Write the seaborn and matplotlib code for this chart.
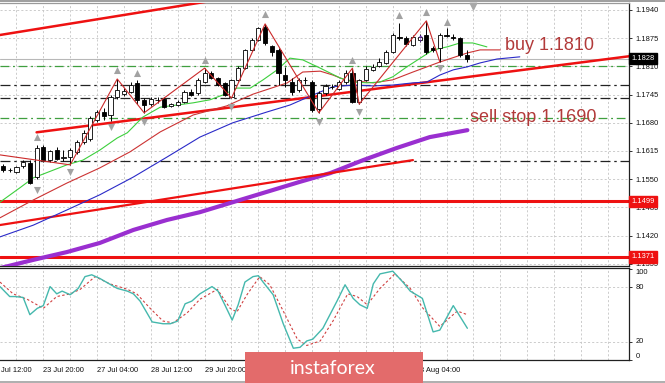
import numpy as np
import pandas as pd
import matplotlib
matplotlib.use("Agg")
import matplotlib.pyplot as plt
import seaborn as sns
from matplotlib.transforms import blended_transform_factory
from matplotlib.patches import Rectangle

# ---------------- data (H4 candles) ----------------
opens = [1.1580, 1.1571, 1.1567, 1.1580, 1.1587, 1.1555, 1.1624, 1.1594, 1.1617, 1.1599,
         1.1601, 1.1613, 1.1636, 1.1643, 1.1687, 1.1705, 1.1698, 1.1740, 1.1746, 1.1751,
         1.1772, 1.1733, 1.1723, 1.1733, 1.1735, 1.1719, 1.1721, 1.1728, 1.1751, 1.1749,
         1.1774, 1.1795, 1.1783, 1.1772, 1.1740, 1.1779, 1.1806, 1.1848, 1.1871, 1.1901,
         1.1857, 1.1848, 1.1790, 1.1774, 1.1756, 1.1779, 1.1774, 1.1712, 1.1749, 1.1763,
         1.1758, 1.1774, 1.1795, 1.1728, 1.1779, 1.1802, 1.1811, 1.1818, 1.1843, 1.1878,
         1.1876, 1.1859, 1.1871, 1.1882, 1.1852, 1.1852, 1.1882, 1.1878, 1.1876, 1.1836]
highs = [1.1585, 1.1576, 1.1580, 1.1594, 1.1594, 1.1629, 1.1629, 1.1617, 1.1624, 1.1617,
         1.1622, 1.1640, 1.1663, 1.1696, 1.1710, 1.1714, 1.1744, 1.1781, 1.1760, 1.1774,
         1.1779, 1.1737, 1.1740, 1.1740, 1.1740, 1.1726, 1.1733, 1.1756, 1.1758, 1.1783,
         1.1806, 1.1799, 1.1786, 1.1774, 1.1781, 1.1811, 1.1850, 1.1875, 1.1901, 1.1908,
         1.1859, 1.1852, 1.1809, 1.1783, 1.1783, 1.1786, 1.1779, 1.1753, 1.1769, 1.1769,
         1.1779, 1.1802, 1.1806, 1.1781, 1.1811, 1.1816, 1.1829, 1.1848, 1.1887, 1.1910,
         1.1880, 1.1882, 1.1885, 1.1915, 1.1857, 1.1887, 1.1899, 1.1885, 1.1878, 1.1848]
lows = [1.1567, 1.1567, 1.1564, 1.1576, 1.1539, 1.1551, 1.1590, 1.1590, 1.1594, 1.1592,
        1.1583, 1.1608, 1.1631, 1.1638, 1.1682, 1.1687, 1.1684, 1.1735, 1.1742, 1.1749,
        1.1723, 1.1703, 1.1719, 1.1726, 1.1714, 1.1716, 1.1719, 1.1726, 1.1742, 1.1744,
        1.1772, 1.1781, 1.1765, 1.1742, 1.1737, 1.1776, 1.1804, 1.1845, 1.1869, 1.1859,
        1.1834, 1.1767, 1.1763, 1.1744, 1.1751, 1.1769, 1.1705, 1.1703, 1.1744, 1.1758,
        1.1756, 1.1769, 1.1726, 1.1723, 1.1776, 1.1799, 1.1809, 1.1816, 1.1841, 1.1871,
        1.1857, 1.1857, 1.1866, 1.1839, 1.1843, 1.1820, 1.1878, 1.1871, 1.1832, 1.1820]
closes = [1.1571, 1.1572, 1.1578, 1.1590, 1.1541, 1.1622, 1.1594, 1.1615, 1.1597, 1.1600,
          1.1617, 1.1636, 1.1657, 1.1691, 1.1705, 1.1696, 1.1740, 1.1756, 1.1753, 1.1767,
          1.1733, 1.1721, 1.1735, 1.1732, 1.1716, 1.1723, 1.1728, 1.1751, 1.1744, 1.1779,
          1.1795, 1.1783, 1.1767, 1.1744, 1.1779, 1.1806, 1.1848, 1.1871, 1.1899, 1.1864,
          1.1843, 1.1795, 1.1779, 1.1751, 1.1779, 1.1778, 1.1710, 1.1749, 1.1765, 1.1762,
          1.1774, 1.1795, 1.1728, 1.1779, 1.1804, 1.1809, 1.1820, 1.1843, 1.1882, 1.1876,
          1.1862, 1.1878, 1.1878, 1.1843, 1.1848, 1.1882, 1.1881, 1.1876, 1.1836, 1.1828]

# Alligator-style moving averages (bar position, price)
lips_x = [-0.45, 2.5, 4.5, 9.5, 11.9, 14.4, 17.0, 18.5, 20.8, 23.4, 25.9, 28.3, 30.8, 32.7,
          34.8, 36.8, 38.7, 40.8, 42.7, 44.6, 47.2, 50.2, 52.1, 54.2, 56.1, 58.0, 60.1,
          62.1, 64.0, 66.1, 68.0, 69.9, 72.0]
lips_y = [1.1497, 1.1530, 1.1553, 1.1583, 1.1594, 1.1617, 1.1645, 1.1657, 1.1693, 1.1716,
          1.1721, 1.1726, 1.1733, 1.1744, 1.1760, 1.1760, 1.1779, 1.1802, 1.1829, 1.1825,
          1.1806, 1.1783, 1.1774, 1.1772, 1.1774, 1.1786, 1.1809, 1.1829, 1.1848, 1.1855,
          1.1864, 1.1864, 1.1855]
teeth_x = [-0.45, 4.5, 9.5, 14.4, 18.9, 23.4, 28.3, 33.3, 37.2, 42.3, 44.6, 47.2, 49.1,
           50.9, 55.1, 58.0, 61.0, 65.0, 69.1, 71.0, 74.0]
teeth_y = [1.1461, 1.1502, 1.1541, 1.1576, 1.1613, 1.1659, 1.1698, 1.1719, 1.1746, 1.1772,
           1.1797, 1.1799, 1.1790, 1.1779, 1.1772, 1.1779, 1.1797, 1.1820, 1.1841, 1.1848,
           1.1848]
jaw_x = [-0.45, 4.5, 9.5, 14.4, 19.4, 24.4, 29.3, 34.2, 39.3, 42.7, 46.1, 49.1, 52.1, 55.1,
         58.0, 61.0, 63.1, 65.0, 67.0, 69.1, 71.0, 73.5, 76.9]
jaw_y = [1.1417, 1.1444, 1.1479, 1.1514, 1.1555, 1.1601, 1.1647, 1.1680, 1.1705, 1.1721,
         1.1744, 1.1763, 1.1767, 1.1765, 1.1767, 1.1772, 1.1774, 1.1790, 1.1802, 1.1809,
         1.1818, 1.1827, 1.1832]
ma200_x = [-0.45, 4.5, 9.5, 14.4, 19.4, 24.4, 29.3, 34.2, 39.3, 44.2, 48.7, 53.6, 58.6,
           63.5, 69.1]
ma200_y = [1.1345, 1.1364, 1.1382, 1.1403, 1.1433, 1.1456, 1.1474, 1.1497, 1.1521, 1.1544,
           1.1564, 1.1594, 1.1622, 1.1647, 1.1663]

zigzag_x = [-0.45, 10, 17, 21, 30, 34, 39, 47, 52, 53, 63, 65]
zigzag_y = [1.1606, 1.1583, 1.1781, 1.1703, 1.1806, 1.1737, 1.1908, 1.1703, 1.1806, 1.1723,
            1.1915, 1.1820]

fr_up_x = [5, 17, 20, 30, 39, 52, 59, 63, 66]
fr_up_y = [1.1647, 1.1802, 1.1795, 1.1825, 1.1931, 1.1825, 1.1928, 1.1935, 1.1912]
fr_dn_x = [5, 10, 16, 21, 34, 47, 53, 65]
fr_dn_y = [1.1525, 1.1567, 1.1670, 1.1682, 1.1716, 1.1682, 1.1705, 1.1806]

# drawn trend lines (two anchor points each)
trend1_x, trend1_y = [-1, 33], [1.1881, 1.1966]
trend2_x, trend2_y = [5, 94], [1.1658, 1.1835]
trend3_x, trend3_y = [-1, 61], [1.1443, 1.1594]

green_levels = [1.1810, 1.1690]
black_levels = [1.1767, 1.1737, 1.1592]
red_levels = [1.1499, 1.1371]
last_price = 1.1828

price_ticks = [1.1355, 1.1420, 1.1485, 1.1550, 1.1615, 1.1680, 1.1745, 1.1810, 1.1875, 1.1940]

# stochastic oscillator
stk_x = [-0.45, 1.0, 1.8, 3.0, 4.0, 5.1, 6.0, 7.0, 8.0, 8.8, 10.0, 11.2, 12.2, 13.2, 14.4,
         17.0, 18.5, 19.4, 20.4, 22.2, 23.8, 24.9, 26.0, 27.1, 28.1, 29.3, 31.1, 32.0, 33.0,
         34.1, 35.0, 36.0, 37.2, 38.0, 38.7, 40.2, 41.7, 43.2, 44.2, 45.2, 46.1, 47.6, 49.7,
         50.9, 52.1, 53.1, 54.2, 55.1, 56.1, 58.0, 59.5, 60.6, 62.4, 64.0, 65.0, 67.0, 69.1]
stk_y = [81, 70, 70, 69, 50, 57, 60, 81, 73, 76, 72, 79, 92, 94, 90,
         79, 76, 73, 65, 42, 40, 40, 43, 62, 65, 73, 81, 76, 61,
         44, 61, 86, 92, 93, 86, 72, 40, 13, 14, 21, 23, 35, 65,
         83, 68, 61, 57, 84, 95, 98, 86, 76, 68, 31, 33, 60, 35]
sig_x = [-0.45, 1.5, 3.6, 6.0, 8.0, 10.0, 11.5, 13.7, 15.9, 18.5, 19.9, 21.9, 23.8, 25.3,
         27.4, 29.3, 31.9, 33.8, 34.8, 36.3, 38.2, 39.7, 41.7, 43.8, 45.2, 47.2, 49.1, 51.3,
         52.7, 54.2, 56.1, 58.3, 60.6, 62.5, 65.0, 67.6, 69.1]
sig_y = [86, 73, 67, 57, 70, 73, 78, 92, 84, 78, 73, 57, 43, 41,
         52, 67, 78, 57, 53, 72, 92, 83, 54, 23, 16, 21, 43, 73,
         70, 61, 79, 95, 79, 57, 37, 54, 50]

# time labels (the first one is shown cut at the left edge in the reference)
label_pos = [-0.25, 6, 14, 22, 30, 62]
label_txt = ["Jul 12:00", "23 Jul 20:00", "27 Jul 04:00", "28 Jul 12:00",
             "29 Jul 20:00", "3 Aug 04:00"]

# ---------------- figure ----------------
sns.set_theme(style="white")
plt.rcParams["font.family"] = ["Liberation Sans", "DejaVu Sans"]

W, H = 665, 383
fig = plt.figure(figsize=(W / 100, H / 100), dpi=100)
fig.patch.set_facecolor("white")


def px_axes(l, t, r, b):
    return fig.add_axes([l / W, 1 - b / H, (r - l) / W, (b - t) / H])


ax = px_axes(0, 3, 629, 266)
ax2 = px_axes(0, 268, 629, 360)

XMIN, XMAX = -0.446, 93.15
TICKFS = 5.4
GRID = dict(color="#c4c4c4", lw=0.6, ls=(0, (2.5, 2.5)))

for a in (ax, ax2):
    a.set_facecolor("white")
    a.set_xlim(XMIN, XMAX)
    a.spines["left"].set_visible(False)
    for s in ("right", "bottom", "top"):
        a.spines[s].set_color("#202020")
        a.spines[s].set_linewidth(0.9)
    a.set_xticks(np.arange(2, 93, 4))
    a.tick_params(axis="x", which="major", length=0, labelbottom=False)
    a.xaxis.grid(True, **GRID)
    a.yaxis.tick_right()
    a.tick_params(axis="y", which="major", length=2.5, width=0.6, pad=2,
                  labelsize=TICKFS, colors="#111111", right=True, left=False)
    a.set_xlabel("")
    a.set_ylabel("")
ax.spines["top"].set_color("#9a9a9a")

# main panel
ax.set_ylim(1.13499, 1.19561)
ax.set_yticks(price_ticks)
ax.set_yticklabels([f"{v:.4f}" for v in price_ticks])
ax.yaxis.grid(True, **GRID)

for lv in green_levels:
    ax.axhline(lv, color="#3f9f3f", lw=0.9, ls=(0, (7, 3, 1.5, 3)), zorder=2)
for lv in black_levels:
    ax.axhline(lv, color="#222222", lw=0.9, ls=(0, (8, 3, 2, 3)), zorder=2)
ax.axhline(last_price, color="#b8b8b8", lw=0.8, zorder=2)
for lv in red_levels:
    ax.axhline(lv, color="#ee1111", lw=2.2, zorder=2)

line_kw = dict(estimator=None, sort=False, legend=False)
sns.lineplot(x=ma200_x, y=ma200_y, ax=ax, color="#9a2fd0", lw=3.0, zorder=3, **line_kw)
sns.lineplot(x=trend1_x, y=trend1_y, ax=ax, color="#ee1111", lw=1.8, zorder=3, **line_kw)
sns.lineplot(x=trend2_x, y=trend2_y, ax=ax, color="#ee1111", lw=1.8, zorder=3, **line_kw)
sns.lineplot(x=trend3_x, y=trend3_y, ax=ax, color="#ee1111", lw=1.6, zorder=3, **line_kw)
sns.lineplot(x=jaw_x, y=jaw_y, ax=ax, color="#2a2ac8", lw=0.8, zorder=3, **line_kw)
sns.lineplot(x=teeth_x, y=teeth_y, ax=ax, color="#cc3333", lw=0.8, zorder=3, **line_kw)
sns.lineplot(x=lips_x, y=lips_y, ax=ax, color="#3ccf3c", lw=0.8, zorder=3, **line_kw)

# candles
df = pd.DataFrame({"o": opens, "h": highs, "l": lows, "c": closes})
df["i"] = np.arange(len(df))
up = df["c"] >= df["o"]
ax.vlines(df["i"], df["l"], df["h"], color="black", lw=0.7, zorder=4)
body_h = (df["c"] - df["o"]).abs().clip(lower=0.00003)
ax.bar(df["i"], body_h, bottom=df[["o", "c"]].min(axis=1), width=0.62,
       color=np.where(up, "white", "black"), edgecolor="black", linewidth=0.6, zorder=5)

sns.lineplot(x=zigzag_x, y=zigzag_y, ax=ax, color="#cc2a2a", lw=0.8, zorder=6, **line_kw)
ax.scatter(fr_up_x, fr_up_y, marker="^", s=26, color="#a2a2a2", zorder=6, linewidths=0)
ax.scatter(fr_dn_x, fr_dn_y, marker="v", s=26, color="#a2a2a2", zorder=6, linewidths=0)
ax.text(62, 1.1873, "\u2191", color="#7a3cc8", fontsize=6.5, ha="center", va="center",
        family="DejaVu Sans", zorder=7)
ax.scatter([69.9], [1.1950], marker="v", s=22, color="#a8a8a8", zorder=7, clip_on=False)

ax.text(74.7, 1.1859, "buy 1.1810", color="#b23a3a", fontsize=13, ha="left", va="center", zorder=8)
ax.text(69.5, 1.1692, "sell stop 1.1690", color="#b23a3a", fontsize=13, ha="left", va="center", zorder=8)

# right-side price boxes
bt = blended_transform_factory(ax.transAxes, ax.transData)
ax.text(1.004, last_price, f"{last_price:.4f}", transform=bt, color="white", fontsize=TICKFS,
        ha="left", va="center", clip_on=False, zorder=9,
        bbox=dict(boxstyle="square,pad=0.3", fc="black", ec="black"))
for lv in red_levels:
    ax.text(1.004, lv, f"{lv:.4f}", transform=bt, color="white", fontsize=TICKFS,
            ha="left", va="center", clip_on=False, zorder=9,
            bbox=dict(boxstyle="square,pad=0.3", fc="#ee1111", ec="#ee1111"))

# stochastic panel
ax2.set_ylim(0, 101.5)
ax2.set_yticks([0, 20, 80, 100])
ax2.set_yticklabels(["0", "20", "80", "100"])
for t, va in zip(ax2.get_yticklabels(), ["bottom", "center", "center", "top"]):
    t.set_va(va)
for lv in (20, 80):
    ax2.axhline(lv, **GRID)
sns.lineplot(x=sig_x, y=sig_y, ax=ax2, color="#d04040", lw=0.8, zorder=3, **line_kw)
ax2.lines[-1].set_linestyle((0, (2.2, 2)))
sns.lineplot(x=stk_x, y=stk_y, ax=ax2, color="#45b8ad", lw=1.0, zorder=4, **line_kw)

ax2.set_xticks(label_pos[1:], minor=True)
ax2.tick_params(axis="x", which="minor", length=3, width=0.6, color="#333333", bottom=True)
bx = blended_transform_factory(ax2.transData, ax2.transAxes)
for p, t in zip(label_pos, label_txt):
    ax2.text(p, -0.115, t, transform=bx, fontsize=TICKFS, color="#111111", ha="left",
             va="center", clip_on=False)

# window frame strips and watermark
fig.patches.append(Rectangle((0, 1 - 2 / H), 1, 2 / H, transform=fig.transFigure,
                             fc="#a0a0a0", ec="none", zorder=5))
fig.patches.append(Rectangle((0, 0), 1, 2 / H, transform=fig.transFigure,
                             fc="#b0b0b0", ec="none", zorder=5))
fig.patches.append(Rectangle((245 / W, 0), (423 - 245) / W, (383 - 352) / H,
                             transform=fig.transFigure, fc="#e36b6b", ec="none", zorder=10))
fig.text(290 / W, 1 - 369 / H, "instaforex", color="white", fontsize=14, ha="left",
         va="center", family=["Lato", "DejaVu Sans"], zorder=11)

fig.savefig("out.png", dpi=100, facecolor="white")
